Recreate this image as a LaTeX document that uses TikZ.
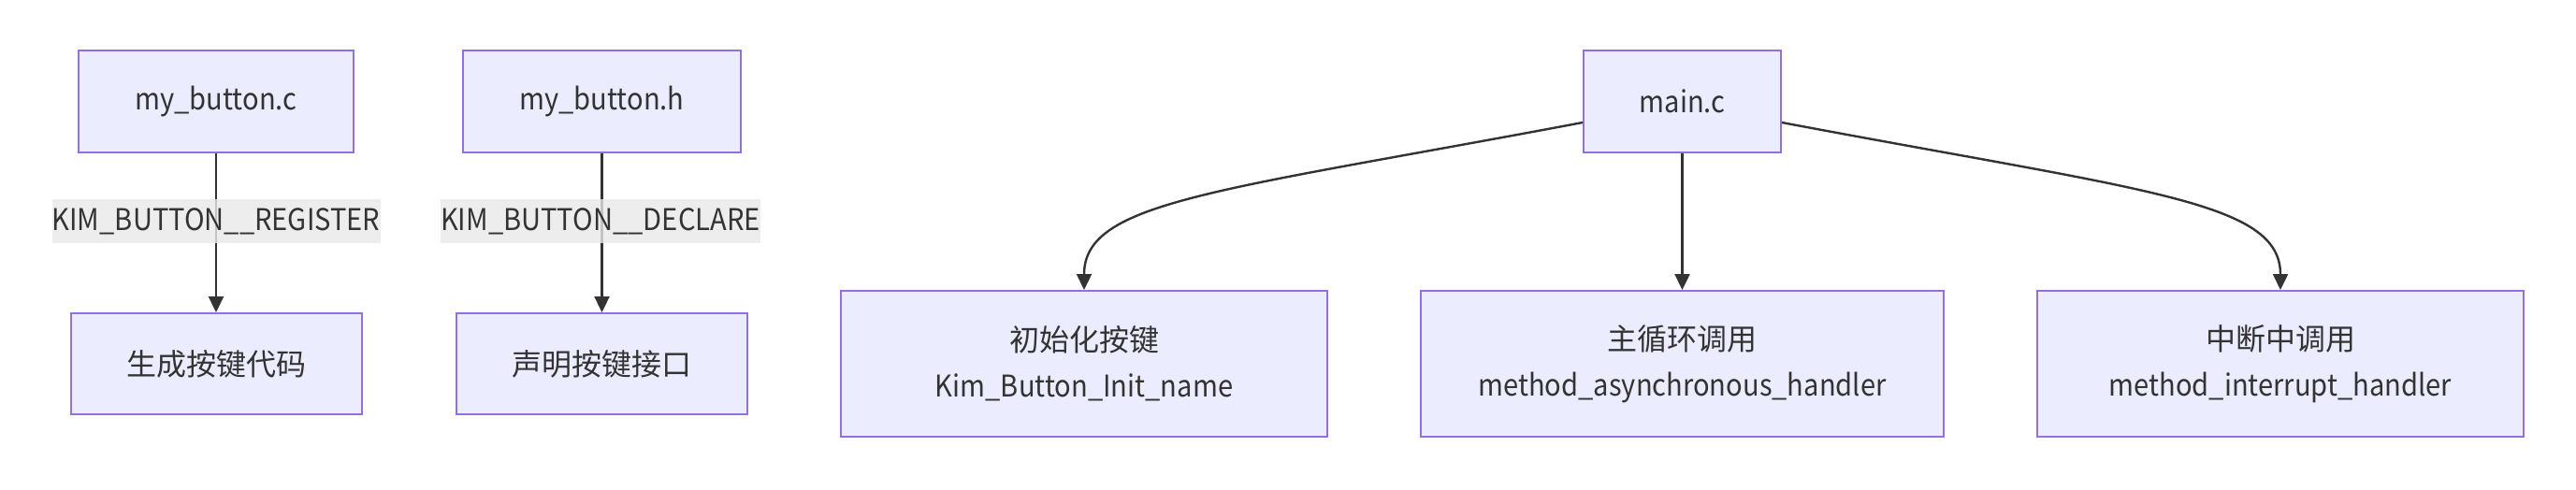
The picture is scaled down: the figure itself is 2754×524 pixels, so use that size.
\documentclass[tikz,border=0pt]{standalone}
\usepackage{fontspec}
\setmainfont{Noto Sans CJK SC}
\newfontfamily\latinfont{Noto Sans CJK SC}[FakeStretch=0.91]
\usetikzlibrary{arrows.meta,calc}
\definecolor{boxfill}{HTML}{ECECFF}
\definecolor{boxborder}{HTML}{9370DB}
\definecolor{linec}{HTML}{333333}
\definecolor{textc}{HTML}{333333}
\definecolor{labelbg}{HTML}{E8E8E8}
\tikzset{
  box/.style={draw=boxborder, fill=boxfill, line width=1pt, inner sep=0pt,
    text=textc, align=center, font=\fontsize{16pt}{24.5pt}\selectfont},
  edgelabel/.style={fill=labelbg, fill opacity=0.8, text opacity=1, inner sep=0pt,
    text=textc, font=\fontsize{16pt}{24.5pt}\selectfont\latinfont},
  edge/.style={draw=linec, line width=1.2pt, -{Triangle[length=8.5pt,width=8pt]}},
}
\begin{document}
\begin{tikzpicture}[x=0.5pt,y=-0.5pt]
\useasboundingbox (0,0) rectangle (2754,524);
% top boxes
\node[box, minimum width=147pt, minimum height=54.5pt] (A) at (231,108.5) {\latinfont my\_button.c};
\node[box, minimum width=148.5pt, minimum height=54.5pt] (B) at (643.5,108.5) {\latinfont my\_button.h};
\node[box, minimum width=105.5pt, minimum height=54.5pt] (M) at (1798.5,108.5) {\latinfont main.c};
% bottom boxes
\node[box, minimum width=155.5pt, minimum height=54pt] (C) at (231,389) {生成按键代码};
\node[box, minimum width=155.5pt, minimum height=54pt] (D) at (643.5,389) {声明按键接口};
\node[box, minimum width=260pt, minimum height=78pt] (E) at (1159,389) {初始化按键\\{\latinfont Kim\_Button\_Init\_name}};
\node[box, minimum width=279.5pt, minimum height=78pt] (F) at (1798.5,389) {主循环调用\\{\latinfont method\_asynchronous\_handler}};
\node[box, minimum width=260pt, minimum height=78pt] (G) at (2438,389) {中断中调用\\{\latinfont method\_interrupt\_handler}};
% edges
\draw[edge] (A.south) -- (A.south |- C.north);
\draw[edge] (B.south) -- (B.south |- D.north);
\draw[edge] (M.south) -- (M.south |- F.north);
\draw[edge] ($(M.west)+(0,22.5)$) .. controls (1300,205) and (1159,215) .. (E.north);
\draw[edge] ($(M.east)+(0,22.5)$) .. controls (2297,205) and (2438,215) .. (G.north);
% edge labels
\node[edgelabel, minimum width=175.5pt, minimum height=23.5pt] (L1) at (231,236.5) {KIM\_BUTTON\_\_REGISTER};
\node[edgelabel, minimum width=171pt, minimum height=23.5pt] (L2) at (642,236.5) {KIM\_BUTTON\_\_DECLARE};
\end{tikzpicture}
\end{document}
